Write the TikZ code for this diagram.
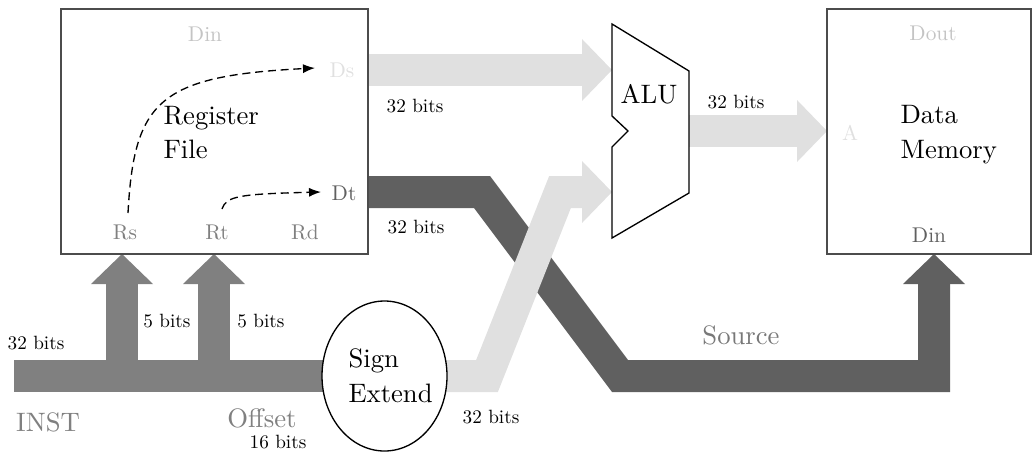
\documentclass[tikz,border=0pt]{standalone}
\usepackage{graphicx}
\usetikzlibrary{arrows.meta,shapes.geometric,backgrounds}

\definecolor{busLight}{RGB}{224,224,224}
\definecolor{busDark}{RGB}{96,96,96}
\definecolor{busMid}{RGB}{128,128,128}
\definecolor{portPale}{RGB}{196,196,196}

% reduced copies of the body font for port names and bus widths
\newcommand\portlbl[1]{\scalebox{0.8}{#1}}
\newcommand\bitslbl[1]{\scalebox{0.72}{#1}}

\begin{document}
\begin{tikzpicture}[x=0.375pt,y=-0.375pt,
  bus/.style={line width=12pt, line join=miter,
    -{Triangle[width=23.25pt,length=11.25pt,line width=0pt]}},
  busbar/.style={line width=12pt, line join=miter},
  unitbox/.style={draw=black!70, line width=0.5pt, inner sep=0pt, outer sep=0pt,
    minimum height=91.875pt},
  bigtext/.style={font=\fontsize{10}{13}\selectfont, inner sep=0pt, align=left},
  port/.style={font=\normalsize, inner sep=0pt},
  bits/.style={font=\normalsize, inner sep=0pt},
  flow/.style={line width=0.5pt, dash pattern=on 3pt off 1.8pt,
    -{Latex[length=4.5pt,width=3.4pt]}}
]
\useasboundingbox (0,0) rectangle (1032,453);

% --- units ---
\node[unitbox, minimum width=115.125pt] (rf) at (214.5,131.5) {};
\node[unitbox, minimum width=76.5pt] (dm) at (929,131.5) {};
\node[bigtext, anchor=west] (rftext) at (163,132.5) {Register\\File};
\node[bigtext, anchor=west] (dmtext) at (900,134.5) {Data\\Memory};

% ALU outline with the notch on its input side
\draw[line width=0.5pt] (612,24) -- (689,71) -- (689,193) -- (612,238)
  -- (612,147) -- (628,131) -- (612,116) -- cycle;
\node[font=\normalsize, inner sep=0pt] (alu) at (649,94) {ALU};

\node[draw, ellipse, fill=white, line width=0.5pt, inner sep=0pt,
  minimum width=46.875pt, minimum height=56.25pt] (se) at (384.5,376) {};
\node[bigtext, anchor=west] (setext) at (348,375.5) {Sign\\Extend};

% --- port labels ---
\node[port, text=portPale] (rfdin) at (205,34) {\portlbl{Din}};
\node[port, text=busLight] (ds) at (342,70) {\portlbl{Ds}};
\node[port, text=busDark] (dt) at (344,193) {\portlbl{Dt}};
\node[port, text=busMid] (rs) at (125,232) {\portlbl{Rs}};
\node[port, text=busMid] (rt) at (217,232) {\portlbl{Rt}};
\node[port, text=busMid] (rd) at (305,232) {\portlbl{Rd}};
\node[port, text=portPale] (dout) at (933,33) {\portlbl{Dout}};
\node[port, text=busLight] (addr) at (850,133) {\portlbl{A}};
\node[port, text=busDark] (dmdin) at (929,235) {\portlbl{Din}};

% --- bus labels ---
\node[bigtext, text=busMid] (inst) at (48,422) {INST};
\node[bigtext, text=busMid] (offset) at (262,418) {Offset};
\node[bigtext, text=busDark!85!white] (source) at (741,335) {Source};
\node[bits] (w32in) at (36,343) {\bitslbl{32 bits}};
\node[bits] (w5s) at (167,321) {\bitslbl{5 bits}};
\node[bits] (w5t) at (261,321) {\bitslbl{5 bits}};
\node[bits] (w16) at (278,442) {\bitslbl{16 bits}};
\node[bits] (w32se) at (491,417) {\bitslbl{32 bits}};
\node[bits] (w32ds) at (415,106) {\bitslbl{32 bits}};
\node[bits] (w32dt) at (416,227) {\bitslbl{32 bits}};
\node[bits] (w32alu) at (736,102) {\bitslbl{32 bits}};

% --- bus end points ---
\coordinate (dsOut) at (368,70);
\coordinate (dtOut) at (368,192);
\coordinate (aluA) at (612,70);
\coordinate (aluB) at (612,192);
\coordinate (aluOut) at (689,131);
\coordinate (dmA) at (827,131);
\coordinate (dmDin) at (934,254);
\coordinate (instIn) at (14,376);
\coordinate (rsIn) at (122,254);
\coordinate (rtIn) at (214,254);
\coordinate (rsTap) at (122,376);
\coordinate (rtTap) at (214,376);

\begin{scope}[on background layer]
  % store path, crossing under the immediate path
  \draw[bus, busDark] (dtOut) -- (482,192) -- (620,376) -- (934,376) -- (dmDin);
  % instruction fields
  \draw[busbar, busMid] (instIn) -- (se.center);
  \draw[bus, busMid] (rsTap) -- (rsIn);
  \draw[bus, busMid] (rtTap) -- (rtIn);
  % ALU operands and result
  \draw[bus, busLight] (dsOut) -- (aluA);
  \draw[bus, busLight] (se.center) -- (487,376) -- (560,192) -- (aluB);
  \draw[bus, busLight] (aluOut) -- (dmA);
\end{scope}

% register reads inside the register file
\coordinate (rsRead) at (128,213);
\coordinate (dsRead) at (315,68);
\coordinate (rtRead) at (222,209);
\coordinate (dtRead) at (321,192);
\draw[flow] (rsRead) .. controls (134,100) and (160,76) .. (dsRead);
\draw[flow] (rtRead) .. controls (226,196) and (240,194) .. (dtRead);
\end{tikzpicture}
\end{document}
